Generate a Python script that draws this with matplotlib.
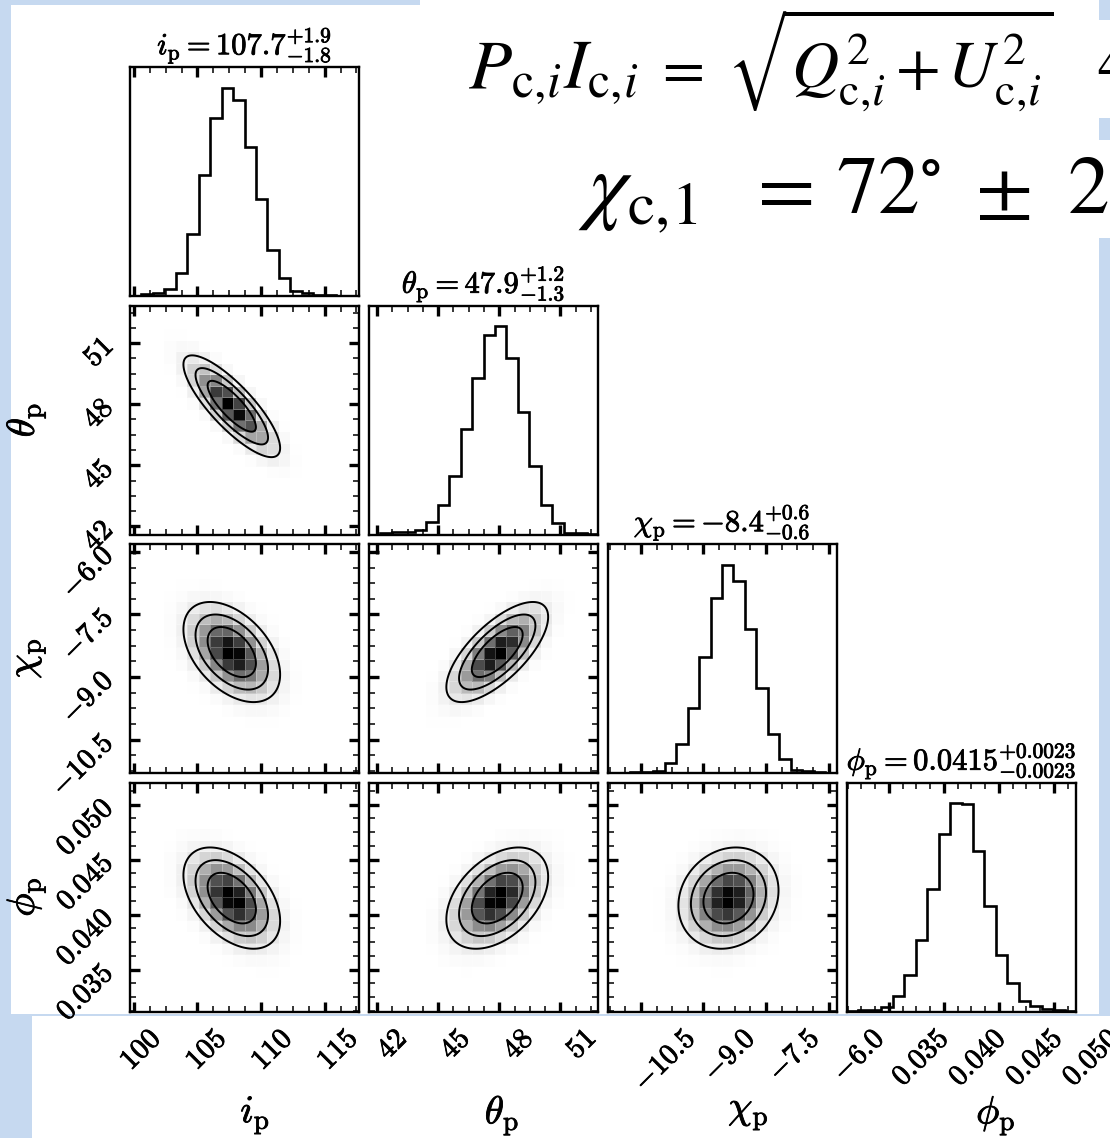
import numpy as np
import matplotlib
matplotlib.use("Agg")
import matplotlib.pyplot as plt
import matplotlib.patheffects as pe
from matplotlib.patches import Rectangle
from matplotlib.ticker import MultipleLocator, AutoMinorLocator, FormatStrFormatter
from matplotlib.colors import LinearSegmentedColormap, PowerNorm

plt.rcParams['mathtext.fontset'] = 'cm'
plt.rcParams['font.family'] = ['DejaVu Serif']

# ---- data ----
labels = [r'i_{\mathrm{p}}', r'\theta_{\mathrm{p}}', r'\chi_{\mathrm{p}}', r'\phi_{\mathrm{p}}']
medians = ['107.7', '47.9', '-8.4', '0.0415']
err_up = ['1.9', '1.2', '0.6', '0.0023']
err_dn = ['1.8', '1.3', '0.6', '0.0023']
centers = [107.7, 47.9, -8.4, 0.0415]
sigmas = [1.9, 1.25, 0.6, 0.0023]
# correlation between (row parameter, column parameter)
corr = {(1, 0): -0.82, (2, 0): -0.45, (2, 1): 0.70,
        (3, 0): -0.45, (3, 1): 0.42, (3, 2): 0.15}
ranges = [(99.7, 117.7), (41.6, 52.85), (-11.3, -5.81), (0.0312, 0.0520)]

hist_i = [0, 8, 13, 36, 110, 300, 580, 854, 1000, 940, 717, 466, 223, 86, 24, 13, 6, 3, 2, 0]
hist_theta = [0, 8, 10, 10, 20, 60, 140, 280, 506, 754, 958, 1000, 850, 590, 330, 144, 56, 8, 5, 2]
hist_chi = [0, 0, 3, 5, 11, 49, 138, 311, 558, 841, 1000, 922, 693, 410, 189, 65, 16, 8, 3, 0]
hist_phi = [2, 5, 8, 21, 74, 177, 342, 588, 851, 1000, 998, 769, 506, 270, 135, 50, 26, 13, 5, 2]
hists = [hist_i, hist_theta, hist_chi, hist_phi]

major_step = [5, 3, 1.5, 0.005]
tick_fmt = ['$%d$', '$%d$', '$%.1f$', '$%.3f$']
sigma_levels = [2.0, 1.5, 1.0]

# pasted equation pieces: (text, x, baseline y, size)
eq_pieces = [
    (r'$P_{\mathrm{c},\!i}I_{\mathrm{c},\!i}$', 468, 88, 51),
    (r'$=$', 654, 86, 44),
    (r'$\sqrt{Q^{2}_{\mathrm{c},\!i}\,{+}\,U^{2}_{\mathrm{c},\!i}}$', 727, 88, 47),
    (r'$4$', 1097, 84, 44),
    (r'$\chi_{\mathrm{c},\!1}$', 578, 213, 63),
    (r'$=$', 745, 213, 60),
    (r'$72$', 836, 213, 60),
    (r'$^{\circ}$', 918, 213, 64),
    (r'$\pm$', 975, 213, 60),
    (r'$2$', 1067, 213, 60),
]

# ---- layout (pixels) ----
W, H = 1110, 1138
BLUE = '#c6d9f0'
fig = plt.figure(figsize=(W / 100, H / 100), dpi=100, facecolor=BLUE)
heavy = [pe.withStroke(linewidth=0.6, foreground='black')]


def fx(x):
    return x / W


def fy(y):
    return 1 - y / H


def white_box(x0, y0, x1, y1):
    fig.patches.append(Rectangle((fx(x0), fy(y1)), (x1 - x0) / W, (y1 - y0) / H,
                                 transform=fig.transFigure, facecolor='white',
                                 edgecolor='none', zorder=-5))


white_box(11, 5, 1099, 1014)      # main page
white_box(420, 0, 1099, 240)      # pasted equation
white_box(1099, 20, 1110, 118)
white_box(1099, 140, 1110, 238)
white_box(32, 1016, 1110, 1138)   # bottom strip

LEFT = [130, 369, 607.5, 847]
TOP = [67, 305.5, 544, 782.5]
SIZE = 229
NB = 20

dens_cmap = LinearSegmentedColormap.from_list('dens', ['white', 'black'])


def style_ticks(ax, xi, yi=None):
    ax.xaxis.set_major_locator(MultipleLocator(major_step[xi]))
    ax.xaxis.set_minor_locator(AutoMinorLocator(4))
    ax.xaxis.set_major_formatter(FormatStrFormatter(tick_fmt[xi]))
    ax.tick_params(which='both', direction='in', top=True, bottom=True,
                   labelbottom=False, labelsize=21)
    ax.tick_params(which='major', length=7.5, width=2.4)
    ax.tick_params(which='minor', length=4.5, width=1.1)
    if yi is None:
        ax.set_yticks([])
    else:
        ax.yaxis.set_major_locator(MultipleLocator(major_step[yi]))
        ax.yaxis.set_minor_locator(AutoMinorLocator(4))
        ax.yaxis.set_major_formatter(FormatStrFormatter(tick_fmt[yi]))
        ax.tick_params(which='both', left=True, right=True, labelleft=False)
    for s in ax.spines.values():
        s.set_linewidth(1.7)


for i in range(4):
    for j in range(i + 1):
        ax = fig.add_axes([fx(LEFT[j]), fy(TOP[i] + SIZE), SIZE / W, SIZE / H])
        xlo, xhi = ranges[j]
        if i == j:
            edges = np.linspace(xlo, xhi, NB + 1)
            ax.stairs(hists[j], edges, color='k', lw=1.9)
            ax.set_xlim(xlo, xhi)
            ax.set_ylim(0, 1.1 * max(hists[j]))
            style_ticks(ax, j)
            ttl = ax.set_title(r'$%s = %s^{+%s}_{-%s}$' % (labels[j], medians[j], err_up[j], err_dn[j]),
                               fontsize=22, pad=9)
            ttl.set_path_effects(heavy)
        else:
            ylo, yhi = ranges[i]
            rho = corr[(i, j)]
            sx, sy = sigmas[j], sigmas[i]
            mx, my = centers[j], centers[i]

            def gauss(X, Y):
                u = (X - mx) / sx
                v = (Y - my) / sy
                return np.exp(-0.5 * (u * u - 2 * rho * u * v + v * v) / (1 - rho ** 2))

            xe = np.linspace(xlo, xhi, NB + 1)
            ye = np.linspace(ylo, yhi, NB + 1)
            XC, YC = np.meshgrid(0.5 * (xe[1:] + xe[:-1]), 0.5 * (ye[1:] + ye[:-1]))
            dens = gauss(XC, YC)
            dens = dens / dens.max()
            ax.pcolormesh(xe, ye, dens, cmap=dens_cmap, norm=PowerNorm(1.3, vmin=0, vmax=1),
                          edgecolors=(1, 1, 1, 0.25), linewidth=0.5)
            xf = np.linspace(xlo, xhi, 300)
            yf = np.linspace(ylo, yhi, 300)
            XF, YF = np.meshgrid(xf, yf)
            lev = sorted(np.exp(-0.5 * np.array(sigma_levels) ** 2))
            ax.contour(XF, YF, gauss(XF, YF), levels=lev, colors='k', linewidths=1.4)
            ax.set_xlim(xlo, xhi)
            ax.set_ylim(ylo, yhi)
            style_ticks(ax, j, i)
            if j == 0:
                ax.tick_params(axis='y', which='major', labelleft=True, pad=8)
                for t in ax.get_yticklabels():
                    t.set_rotation(45)
                    t.set_path_effects(heavy)
                ylab = ax.set_ylabel('$%s$' % labels[i], fontsize=28)
                ylab.set_path_effects(heavy)
                ax.yaxis.set_label_coords(-0.36, 0.5)

# bottom strip: tick labels and axis names sit on a slightly stretched copy
for j in range(4):
    gx = 1.033 * LEFT[j] + 2.6
    gax = fig.add_axes([fx(gx), fy(TOP[3] + SIZE), 1.033 * SIZE / W, SIZE / H])
    gax.set_xlim(*ranges[j])
    gax.patch.set_visible(False)
    for s in gax.spines.values():
        s.set_visible(False)
    gax.set_yticks([])
    gax.xaxis.set_major_locator(MultipleLocator(major_step[j]))
    gax.xaxis.set_major_formatter(FormatStrFormatter(tick_fmt[j]))
    gax.tick_params(axis='x', length=0, pad=9, labelsize=21)
    for t in gax.get_xticklabels():
        t.set_rotation(45)
        t.set_path_effects(heavy)
    xlab = gax.set_xlabel('$%s$' % labels[j], fontsize=28)
    xlab.set_path_effects(heavy)
    gax.xaxis.set_label_coords(0.5, -0.365)

# pasted equation text
for txt, x, y, size in eq_pieces:
    fig.text(fx(x), fy(y), txt, fontsize=size, math_fontfamily='stix',
             va='baseline', ha='left')

fig.savefig('out.png', dpi=100, facecolor=BLUE)
